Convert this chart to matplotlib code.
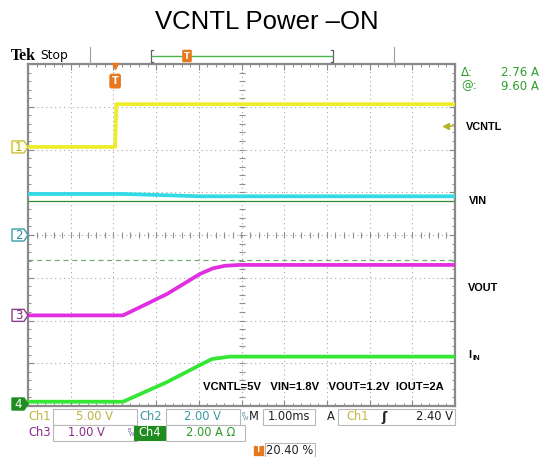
import numpy as np
import matplotlib
matplotlib.use('Agg')
import matplotlib.pyplot as plt
import matplotlib.transforms as mtransforms
from matplotlib.patches import Polygon, Rectangle, FancyBboxPatch
from matplotlib import font_manager

W, H = 549, 457

# horizontal: 1 ms/div, 10 div, trigger at 20.40 % of record
t_left, t_right = -2.04, 7.96

# Ch1 VCNTL (V), 5 V/div
vcntl_t = [-2.04, 0.0, 0.03, 7.96]
vcntl_v = [0.0, 0.0, 5.0, 5.0]
# Ch2 VIN (V), 2 V/div
vin_t = [-2.04, 0.19, 1.2, 2.0, 7.96]
vin_v = [1.92, 1.92, 1.86, 1.81, 1.81]
# Ch3 VOUT (V), 1 V/div
vout_t = [-2.04, 0.185, 0.58, 1.215, 1.99, 2.29, 2.57, 2.92, 7.96]
vout_v = [0.0, 0.0, 0.19, 0.50, 0.97, 1.10, 1.16, 1.18, 1.18]
# Ch4 IIN (A), 2 A/div
iin_t = [-2.04, 0.185, 1.215, 1.99, 2.27, 2.69, 7.96]
iin_a = [0.2, 0.2, 1.12, 1.92, 2.20, 2.31, 2.31]

# channel settings: volts (amps) per div and ground level in divisions
ch_scale = {1: 5.0, 2: 2.0, 3: 1.0, 4: 2.0}
ch_ground = {1: 2.06, 2: 0.0, 3: -1.88, 4: -4.0}

cursor_at = 9.60      # A
cursor_delta = 2.76   # A
trig_level = 2.40     # V on Ch1

labels = ['VCNTL', 'VIN', 'VOUT']
note = 'VCNTL=5V   VIN=1.8V   VOUT=1.2V  IOUT=2A'

yellow = '#EDED2A'
cyan = '#33D9E6'
magenta = '#E02EE0'
green = '#35E635'
orange = '#E8781E'

names = {f.name for f in font_manager.fontManager.ttflist}
narrow = 'Liberation Sans Narrow' if 'Liberation Sans Narrow' in names else None

fig = plt.figure(figsize=(W / 100, H / 100), dpi=100)
fig.patch.set_facecolor('white')

# graticule
ax = fig.add_axes([28 / W, (H - 406) / H, 427 / W, 342 / H])
ax.set_xlim(t_left, t_right)
ax.set_ylim(-4, 4)
ax.set_facecolor('white')
for s in ax.spines.values():
    s.set_color('#8a8a8a')
    s.set_linewidth(1.6)
ax.set_xticks(np.arange(t_left, t_right + 0.01, 1.0))
ax.set_xticks(np.arange(t_left, t_right + 0.01, 0.2), minor=True)
ax.set_yticks(np.arange(-4, 4.01, 1.0))
ax.set_yticks(np.arange(-4, 4.01, 0.2), minor=True)
ax.tick_params(which='both', direction='in', top=True, right=True,
               labelbottom=False, labelleft=False, color='#8a8a8a')
ax.tick_params(which='major', length=4, width=0.8)
ax.tick_params(which='minor', length=2.5, width=0.7)

gc = '#a8a8a8'
for k in range(1, 10):
    ax.axvline(t_left + k, color=gc, lw=0.8, ls=(0, (1, 3)), zorder=1)
for k in range(-3, 4):
    ax.axhline(k, color=gc, lw=0.8, ls=(0, (1, 3)), zorder=1)
# center cross tick marks
xc = t_left + 5
ys = np.arange(-4, 4.01, 0.2)
xs = np.arange(t_left, t_right + 0.01, 0.2)
ax.plot([xc] * len(ys), ys, ls='none', marker='_', ms=4, mew=0.8, color='#909090', zorder=1)
ax.plot(xs, [0] * len(xs), ls='none', marker='|', ms=4, mew=0.8, color='#909090', zorder=1)

# cursors (Ch4)
ax.axhline(ch_ground[4] + cursor_at / ch_scale[4], color='#2E8B2E', lw=0.9, zorder=2)
ax.axhline(ch_ground[4] + (cursor_at - cursor_delta) / ch_scale[4], color='#6DAF6D',
           lw=0.9, ls=(0, (4, 3)), zorder=2)


def to_div(ch, vals):
    return [ch_ground[ch] + v / ch_scale[ch] for v in vals]


lw = 2.7
ax.plot(vcntl_t, to_div(1, vcntl_v), color=yellow, lw=lw, zorder=3)
ax.plot(vin_t, to_div(2, vin_v), color=cyan, lw=lw, zorder=3)
ax.plot(vout_t, to_div(3, vout_v), color=magenta, lw=lw, zorder=3)
ax.plot(iin_t, to_div(4, iin_a), color=green, lw=lw, zorder=3)

# trigger level marker on right edge
blend = mtransforms.blended_transform_factory(ax.transAxes, ax.transData)
lvl = ch_ground[1] + trig_level / ch_scale[1]
ax.plot([0.978, 0.995], [lvl, lvl], transform=blend, color='#B5B52A', lw=1.2, zorder=4)
ax.plot([0.978], [lvl], transform=blend, marker='<', ms=5, color='#B5B52A', zorder=4)

# trigger position marker on top
blend_x = mtransforms.blended_transform_factory(ax.transData, ax.transAxes)
ax.plot([0], [0.995], transform=blend_x, marker='v', ms=5, color=orange, clip_on=False, zorder=5)
ax.text(0, 0.95, 'T', transform=blend_x, ha='center', va='center', color='white',
        fontsize=7, fontweight='bold', zorder=5,
        bbox=dict(boxstyle='round,pad=0.18', fc=orange, ec=orange))

if narrow:
    ax.text(0.41, 0.055, note, transform=ax.transAxes, fontsize=9.5, fontweight='bold',
            family=narrow, va='center', ha='left', zorder=6)
else:
    ax.text(0.41, 0.055, note, transform=ax.transAxes, fontsize=8.1, fontweight='bold',
            family='Liberation Sans', va='center', ha='left', zorder=6)

# overlay in pixel coordinates for the scope chrome
ov = fig.add_axes([0, 0, 1, 1])
ov.set_xlim(0, W)
ov.set_ylim(H, 0)
ov.axis('off')
ov.patch.set_alpha(0)


def py(ch, v=0.0):
    _, fy = ax.transData.transform((0, ch_ground[ch] + v / ch_scale[ch]))
    return H - fy


def ch_marker(num, y, ec, fc, tc):
    x0 = 12
    pts = [(x0, y - 6), (x0 + 12, y - 6), (x0 + 16, y), (x0 + 12, y + 6), (x0, y + 6)]
    ov.add_patch(Polygon(pts, closed=True, fc=fc, ec=ec, lw=1.0, zorder=7))
    ov.text(x0 + 6.5, y + 0.5, str(num), color=tc, fontsize=8.5, ha='center', va='center', zorder=8)


ch_marker(1, py(1), '#C8C23C', '#FFFFE8', '#B5AE2A')
ch_marker(2, py(2), '#3A9EA8', 'white', '#2E8E98')
ch_marker(3, py(3), '#8C3C8C', 'white', '#7A2A7A')
ch_marker(4, min(py(4), 404), '#1E8C1E', '#1E8C1E', 'white')

# title
ov.text(267, 22, 'VCNTL Power \u2013ON', fontsize=18.5, family='Liberation Sans',
        ha='center', va='center')

# top status bar
ov.text(11, 56, 'Tek', fontsize=11.5, fontweight='bold', family='Liberation Serif', va='center')
ov.text(40, 56, 'Stop', fontsize=8.8, family='DejaVu Sans', va='center')
ov.plot([90, 90], [47, 63], color='#a0a0a0', lw=0.8)
ov.plot([394, 394], [47, 63], color='#a0a0a0', lw=0.8)
ov.plot([153, 151, 151, 153], [50, 50, 62, 62], color='#606060', lw=0.9)
ov.plot([331, 333, 333, 331], [50, 50, 62, 62], color='#606060', lw=0.9)
ov.plot([152, 332], [56, 56], color='#4CB44C', lw=1.0)
ov.add_patch(FancyBboxPatch((183.5, 51), 7, 10, boxstyle='round,pad=0.6', fc=orange, ec=orange, zorder=7))
ov.text(187, 56.5, 'T', color='white', fontsize=6, fontweight='bold', ha='center', va='center', zorder=8)

# cursor readouts
rc = '#2E9E2E'
ov.text(461, 72, '\u0394:', color=rc, fontsize=8.5, va='center')
ov.text(539, 72, '2.76 A', color=rc, fontsize=8.5, va='center', ha='right')
ov.text(461, 86, '@:', color=rc, fontsize=8.5, va='center')
ov.text(539, 86, '9.60 A', color=rc, fontsize=8.5, va='center', ha='right')

# right side labels
lab_font = dict(fontsize=7.8, fontweight='bold', family='Liberation Sans', va='center')
ov.text(466, 127, labels[0], **lab_font)
ov.text(469, 201, labels[1], **lab_font)
ov.text(468, 288, labels[2], **lab_font)
ov.text(468, 355, 'I', **lab_font)
ov.text(472.5, 359, 'IN', fontsize=5.5, fontweight='bold', family='Liberation Sans', va='center')

# bottom readouts
fs = 8.3


def box(x0, x1, y0, y1, fc='white', ec='#b8b8b8'):
    ov.add_patch(Rectangle((x0, y0), x1 - x0, y1 - y0, fc=fc, ec=ec, lw=0.8))


def bw(x, y, c):
    ov.text(x, y - 2, 'B', fontsize=4, color=c, ha='center', va='center')
    ov.text(x + 3, y + 1.5, 'W', fontsize=4, color=c, ha='center', va='center')


r1, r2, r3 = 417, 433, 450
box(53, 137, r1 - 8, r1 + 8)
box(166, 240, r1 - 8, r1 + 8)
box(263, 315, r1 - 8, r1 + 8)
box(338, 455, r1 - 8, r1 + 8)
box(53, 137, r2 - 8, r2 + 8)
box(166, 245, r2 - 8, r2 + 8)
box(265, 315, r3 - 7, r3 + 7)

ov.text(28, r1, 'Ch1', color='#C4B640', fontsize=fs, va='center')
ov.text(95, r1, '5.00 V', color='#BFB040', fontsize=fs, va='center', ha='center')
ov.text(139, r1, 'Ch2', color='#3C9AA6', fontsize=fs, va='center')
ov.text(203, r1, '2.00 V', color='#3A9AA8', fontsize=fs, va='center', ha='center')
bw(243, r1, '#5f8fa8')
ov.text(249, r1, 'M', color='#202020', fontsize=fs, va='center')
ov.text(289, r1, '1.00ms', color='#202020', fontsize=fs, va='center', ha='center')
ov.text(327, r1, 'A', color='#202020', fontsize=fs, va='center')
ov.text(346, r1, 'Ch1', color='#C4B640', fontsize=fs, va='center')
ov.text(381, r1, '\u0283', color='#202020', fontsize=fs + 1, va='center', fontweight='bold')
ov.text(453, r1, '2.40 V', color='#202020', fontsize=fs, va='center', ha='right')

ov.text(28, r2, 'Ch3', color='#8C2C8C', fontsize=fs, va='center')
ov.text(86, r2, '1.00 V', color='#8C2C8C', fontsize=fs, va='center', ha='center')
bw(129, r2, '#7a6a9a')
box(134, 165, r2 - 7, r2 + 7, fc='#1E8C1E', ec='#1E8C1E')
ov.text(149.5, r2, 'Ch4', color='white', fontsize=fs, va='center', ha='center')
ov.text(211, r2, '2.00 A \u03a9', color='#2E9A2E', fontsize=fs, va='center', ha='center')

ov.add_patch(Rectangle((254, r3 - 4.5), 9, 9, fc=orange, ec=orange))
ov.text(258.5, r3, 'T', color='white', fontsize=5.5, fontweight='bold', ha='center', va='center')
ov.text(290, r3, '20.40 %', color='#202020', fontsize=fs, va='center', ha='center')

fig.savefig('out.png', dpi=100)
